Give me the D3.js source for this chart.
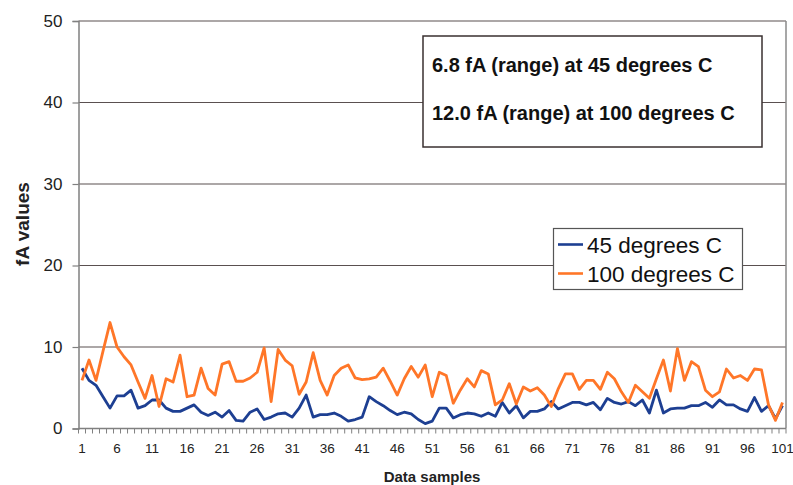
<!DOCTYPE html>
<html>
<head>
<meta charset="utf-8">
<script src="https://cdn.jsdelivr.net/npm/d3@7"></script>
<style>
  body { margin: 0; background: #fff; }
  text { font-family: "Liberation Sans", Arial, sans-serif; }
</style>
</head>
<body>
<svg id="canvas"></svg>
<script>
// Sample numbers on the x axis.
var samples = d3.range(1, 102);

// Labelled samples and y ticks.
var xTickLabels = [1, 6, 11, 16, 21, 26, 31, 36, 41, 46, 51, 56, 61, 66, 71, 76, 81, 86, 91, 96, 101];
var yTicks = [0, 10, 20, 30, 40, 50];

// Series names.
var seriesNames = ['45 degrees C', '100 degrees C'];

// 45 degrees C readings (fA).
var values45 = [
  7.4, 5.9, 5.3, 3.9, 2.5, 4.0, 4.0, 4.7, 2.5, 2.8,
  3.5, 3.5, 2.5, 2.1, 2.1, 2.5, 2.9, 2.0, 1.6, 2.0,
  1.4, 2.2, 1.0, 0.9, 2.0, 2.4, 1.1, 1.4, 1.8, 1.9,
  1.4, 2.5, 4.1, 1.4, 1.7, 1.7, 1.9, 1.5, 0.9, 1.1,
  1.4, 3.9, 3.3, 2.8, 2.2, 1.7, 2.0, 1.8, 1.1, 0.6,
  0.9, 2.5, 2.5, 1.3, 1.7, 1.9, 1.8, 1.5, 1.9, 1.5,
  3.2, 1.9, 2.8, 1.3, 2.1, 2.1, 2.4, 3.3, 2.4, 2.8,
  3.2, 3.2, 2.9, 3.2, 2.3, 3.7, 3.2, 3.0, 3.3, 2.8,
  3.5, 1.9, 4.7, 1.9, 2.4, 2.5, 2.5, 2.8, 2.8, 3.2,
  2.6, 3.5, 2.9, 2.9, 2.4, 2.1, 3.8, 2.1, 2.8, 1.2,
  2.8
];

// 100 degrees C readings (fA).
var values100 = [
  5.9, 8.4, 5.9, 9.5, 13.0, 10.0, 8.8, 7.8, 5.7, 3.7,
  6.5, 2.7, 6.1, 5.7, 9.0, 3.9, 4.1, 7.4, 4.9, 4.1,
  7.9, 8.2, 5.8, 5.8, 6.2, 6.9, 9.9, 3.3, 9.7, 8.4,
  7.7, 4.2, 5.7, 9.3, 5.9, 4.1, 6.5, 7.4, 7.8, 6.2,
  6.0, 6.1, 6.3, 7.4, 5.8, 4.1, 6.1, 7.6, 6.3, 7.8,
  3.9, 6.9, 6.5, 3.1, 4.7, 6.1, 5.1, 7.1, 6.7, 2.9,
  3.5, 5.5, 3.0, 5.1, 4.6, 5.0, 4.1, 2.7, 4.9, 6.7,
  6.7, 4.8, 5.9, 5.9, 4.8, 6.9, 6.1, 4.5, 3.2, 5.3,
  4.5, 3.7, 6.1, 8.4, 4.6, 9.8, 5.9, 8.2, 7.6, 4.7,
  3.9, 4.5, 7.3, 6.2, 6.5, 5.9, 7.3, 7.2, 2.9, 1.0,
  3.2
];

// Note box lines.
var noteLines = ['6.8 fA (range) at 45 degrees C', '12.0 fA (range) at 100 degrees C'];

// Canvas size.
var canvasWidth = 793;
var canvasHeight = 485;

// Plot area edges.
var plotLeft = 78.5;
var plotRight = 786;
var plotTop = 21;
var plotBottom = 428.5;

var colors = ['#1d3f92', '#ff7628'];

var svg = d3.select('#canvas')
            .attr('width', canvasWidth)
            .attr('height', canvasHeight);

// Band scale gives the category boundaries, centre = band + half.
var xBand = d3.scaleBand()
              .domain(samples)
              .range([plotLeft, plotRight])
              .paddingInner(0)
              .paddingOuter(0);

var xCenter = function(s) {
  return xBand(s) + xBand.bandwidth() / 2;
};

var yScale = d3.scaleLinear()
               .domain([0, 50])
               .range([plotBottom, plotTop]);

// Horizontal grid lines.
svg.append('g')
   .selectAll('line')
   .data(yTicks.filter(function(t) { return t > 0; }))
   .enter()
   .append('line')
   .attr('x1', plotLeft)
   .attr('x2', plotRight)
   .attr('y1', function(d) { return yScale(d); })
   .attr('y2', function(d) { return yScale(d); })
   .attr('stroke', '#5a5050')
   .attr('stroke-width', 1.2);

// Right border of the plot.
svg.append('line')
   .attr('x1', plotRight)
   .attr('x2', plotRight)
   .attr('y1', yScale(50))
   .attr('y2', yScale(0))
   .attr('stroke', '#8a8a8a')
   .attr('stroke-width', 1.5);

// Vertical axis.
var yAxis = d3.axisLeft(yScale)
              .tickValues(yTicks)
              .tickSize(6)
              .tickPadding(10);
var yAxisG = svg.append('g')
                .attr('transform', 'translate(' + plotLeft + ',0)')
                .call(yAxis);
yAxisG.select('.domain').attr('stroke', '#808080').attr('stroke-width', 1.5);
yAxisG.selectAll('.tick line').attr('stroke', '#808080').attr('stroke-width', 1.2);
yAxisG.selectAll('.tick text')
      .attr('font-family', '"Liberation Sans", Arial, sans-serif')
      .attr('font-size', 17)
      .attr('fill', '#222');

// Horizontal axis line.
svg.append('line')
   .attr('x1', plotLeft)
   .attr('x2', plotRight)
   .attr('y1', plotBottom)
   .attr('y2', plotBottom)
   .attr('stroke', '#808080')
   .attr('stroke-width', 1.5);

// Tick marks between the samples.
var tickEdges = samples.map(function(s) { return xBand(s); }).concat([plotRight]);
svg.append('g')
   .selectAll('line')
   .data(tickEdges)
   .enter()
   .append('line')
   .attr('x1', function(d) { return d; })
   .attr('x2', function(d) { return d; })
   .attr('y1', plotBottom)
   .attr('y2', plotBottom + 5)
   .attr('stroke', '#808080')
   .attr('stroke-width', 1);

// Sample labels every five samples.
svg.append('g')
   .selectAll('text')
   .data(xTickLabels)
   .enter()
   .append('text')
   .attr('x', function(d) { return xCenter(d); })
   .attr('y', plotBottom + 24)
   .attr('text-anchor', 'middle')
   .attr('font-size', 13.5)
   .attr('fill', '#222')
   .text(function(d) { return d; });

// Axis titles.
svg.append('text')
   .attr('x', 432)
   .attr('y', 482)
   .attr('text-anchor', 'middle')
   .attr('font-size', 15)
   .attr('font-weight', 'bold')
   .attr('fill', '#222')
   .text('Data samples');

svg.append('text')
   .attr('transform', 'translate(29,224) rotate(-90)')
   .attr('text-anchor', 'middle')
   .attr('font-size', 19)
   .attr('font-weight', 'bold')
   .attr('fill', '#222')
   .text('fA values');

// Series lines.
var allSeries = [values45, values100];
var line = d3.line()
             .x(function(d, i) { return xCenter(samples[i]); })
             .y(function(d) { return yScale(d); });

svg.append('g')
   .selectAll('path')
   .data(allSeries)
   .enter()
   .append('path')
   .attr('d', function(d) { return line(d); })
   .attr('fill', 'none')
   .attr('stroke', function(d, i) { return colors[i]; })
   .attr('stroke-width', 2.8)
   .attr('stroke-linejoin', 'round');

// Range note box.
var note = svg.append('g');
note.append('rect')
    .attr('x', 423)
    .attr('y', 36)
    .attr('width', 339)
    .attr('height', 111)
    .attr('fill', '#fff')
    .attr('stroke', '#3a3030')
    .attr('stroke-width', 1.5);
note.selectAll('text')
    .data(noteLines)
    .enter()
    .append('text')
    .attr('x', 432)
    .attr('y', function(d, i) { return 72 + i * 48; })
    .attr('font-size', 20)
    .attr('font-weight', 'bold')
    .attr('fill', '#111')
    .text(function(d) { return d; });

// Legend.
var legend = svg.append('g');
legend.append('rect')
      .attr('x', 553.5)
      .attr('y', 228.5)
      .attr('width', 189)
      .attr('height', 61)
      .attr('fill', '#fff')
      .attr('stroke', '#555')
      .attr('stroke-width', 1.2);

var items = legend.selectAll('g')
                  .data(seriesNames)
                  .enter()
                  .append('g')
                  .attr('transform', function(d, i) { return 'translate(0,' + (244.5 + i * 29) + ')'; });
items.append('line')
     .attr('x1', 558)
     .attr('x2', 583)
     .attr('stroke', function(d, i) { return colors[i]; })
     .attr('stroke-width', 2.6);
items.append('text')
     .attr('x', 587)
     .attr('y', 8)
     .attr('font-size', 22.5)
     .attr('fill', '#111')
     .text(function(d) { return d; });
</script>
</body>
</html>
